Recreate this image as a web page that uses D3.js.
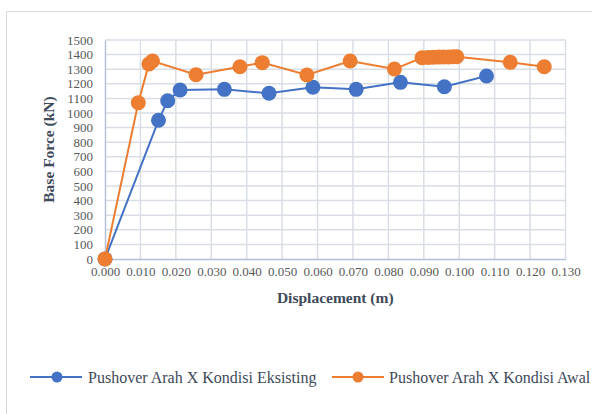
<!DOCTYPE html>
<html>
<head>
<meta charset="utf-8">
<script src="https://cdn.jsdelivr.net/npm/d3@7/dist/d3.min.js"></script>
<style>
  html, body { margin: 0; padding: 0; background: #fff; }
  svg { display: block; }
</style>
</head>
<body>
<svg id="chart" width="592" height="414"></svg>
<script>
// Pushover curves: displacement (m) vs base force (kN)
const eksistingDisp  = [0.000, 0.0151, 0.0177, 0.0212, 0.0337, 0.0463, 0.0587, 0.0709, 0.0834, 0.0958, 0.1077];
const eksistingForce = [0, 950, 1084, 1158, 1162, 1135, 1176, 1162, 1210, 1180, 1253];

const awalDisp  = [0.000, 0.0094, 0.0124, 0.0134, 0.0257, 0.0381, 0.0444, 0.0570, 0.0692, 0.0817,
                   0.0895, 0.0912, 0.0927, 0.0942, 0.0956, 0.0970, 0.0983, 0.0993, 0.1144, 0.1240];
const awalForce = [0, 1070, 1336, 1356, 1262, 1317, 1345, 1260, 1356, 1301,
                   1378, 1380, 1382, 1383, 1384, 1384, 1385, 1385, 1347, 1317];

const xTicks = [0, 0.01, 0.02, 0.03, 0.04, 0.05, 0.06, 0.07, 0.08, 0.09, 0.10, 0.11, 0.12, 0.13];
const yTicks = [0, 100, 200, 300, 400, 500, 600, 700, 800, 900, 1000, 1100, 1200, 1300, 1400, 1500];

const seriesNames = ["Pushover Arah X Kondisi Eksisting", "Pushover Arah X Kondisi Awal"];
const seriesColors = ["#4472C4", "#ED7D31"];

const svg = d3.select("#chart");
const font = "'Liberation Serif', 'Times New Roman', serif";

// chart frame
svg.append("rect")
  .attr("x", 6.5).attr("y", 11.5)
  .attr("width", 620).attr("height", 440)
  .attr("fill", "#fff").attr("stroke", "#d9d9d9").attr("stroke-width", 1);

const x = d3.scaleLinear().domain([0, 0.13]).range([105, 565.5]);
const y = d3.scaleLinear().domain([0, 1500]).range([259, 40]);

// gridlines
const grid = svg.append("g");
grid.selectAll("line.v").data(xTicks.slice(1)).join("line")
  .attr("x1", d => x(d)).attr("x2", d => x(d))
  .attr("y1", y(0)).attr("y2", y(1500))
  .attr("stroke", "#d9dee6").attr("stroke-width", 1.5);
grid.selectAll("line.h").data(yTicks.slice(1)).join("line")
  .attr("x1", x(0)).attr("x2", x(0.13))
  .attr("y1", d => y(d)).attr("y2", d => y(d))
  .attr("stroke", "#d9dee6").attr("stroke-width", 1.5);

// axes
const xAxis = d3.axisBottom(x).tickValues(xTicks).tickFormat(d3.format(".3f")).tickSize(0).tickPadding(8);
const yAxis = d3.axisLeft(y).tickValues(yTicks).tickFormat(d3.format("d")).tickSize(0).tickPadding(12);

const gx = svg.append("g").attr("transform", `translate(0,${y(0)})`).call(xAxis);
const gy = svg.append("g").attr("transform", `translate(${x(0)},0)`).call(yAxis);
[gx, gy].forEach(g => {
  g.attr("font-family", null);
  g.select(".domain").attr("stroke", "#b4c0d6").attr("stroke-width", 1.5);
  g.selectAll("text").attr("fill", "#595959").style("font-family", font).style("font-size", "13px");
});

// axis titles
svg.append("text")
  .attr("x", (x(0) + x(0.13)) / 2).attr("y", 303)
  .attr("text-anchor", "middle")
  .style("font-family", font).style("font-size", "15.5px").style("font-weight", "bold")
  .attr("fill", "#404a5a")
  .text("Displacement (m)");
svg.append("text")
  .attr("transform", `translate(54,${(y(0) + y(1500)) / 2}) rotate(-90)`)
  .attr("text-anchor", "middle")
  .style("font-family", font).style("font-size", "15.5px").style("font-weight", "bold")
  .attr("fill", "#404a5a")
  .text("Base Force (kN)");

// series
const series = [
  { disp: eksistingDisp, force: eksistingForce },
  { disp: awalDisp, force: awalForce }
];
const line = d3.line().x(d => x(d[0])).y(d => y(d[1]));

series.forEach((s, i) => {
  const pts = s.disp.map((d, j) => [d, s.force[j]]);
  const g = svg.append("g");
  g.append("path").datum(pts)
    .attr("d", line).attr("fill", "none")
    .attr("stroke", seriesColors[i]).attr("stroke-width", 2);
  g.selectAll("circle").data(pts).join("circle")
    .attr("cx", d => x(d[0])).attr("cy", d => y(d[1]))
    .attr("r", 7.5).attr("fill", seriesColors[i]);
});

// legend
const legendItems = [
  { x0: 30, x1: 82, cx: 57, tx: 88 },
  { x0: 332, x1: 384, cx: 358, tx: 389 }
];
legendItems.forEach((it, i) => {
  const g = svg.append("g");
  g.append("line").attr("x1", it.x0).attr("x2", it.x1).attr("y1", 377).attr("y2", 377)
    .attr("stroke", seriesColors[i]).attr("stroke-width", 2);
  g.append("circle").attr("cx", it.cx).attr("cy", 377).attr("r", 5.5).attr("fill", seriesColors[i]);
  g.append("text").attr("x", it.tx).attr("y", 382.5)
    .style("font-family", font).style("font-size", "16px")
    .attr("fill", "#404a5a")
    .text(seriesNames[i]);
});
</script>
</body>
</html>
